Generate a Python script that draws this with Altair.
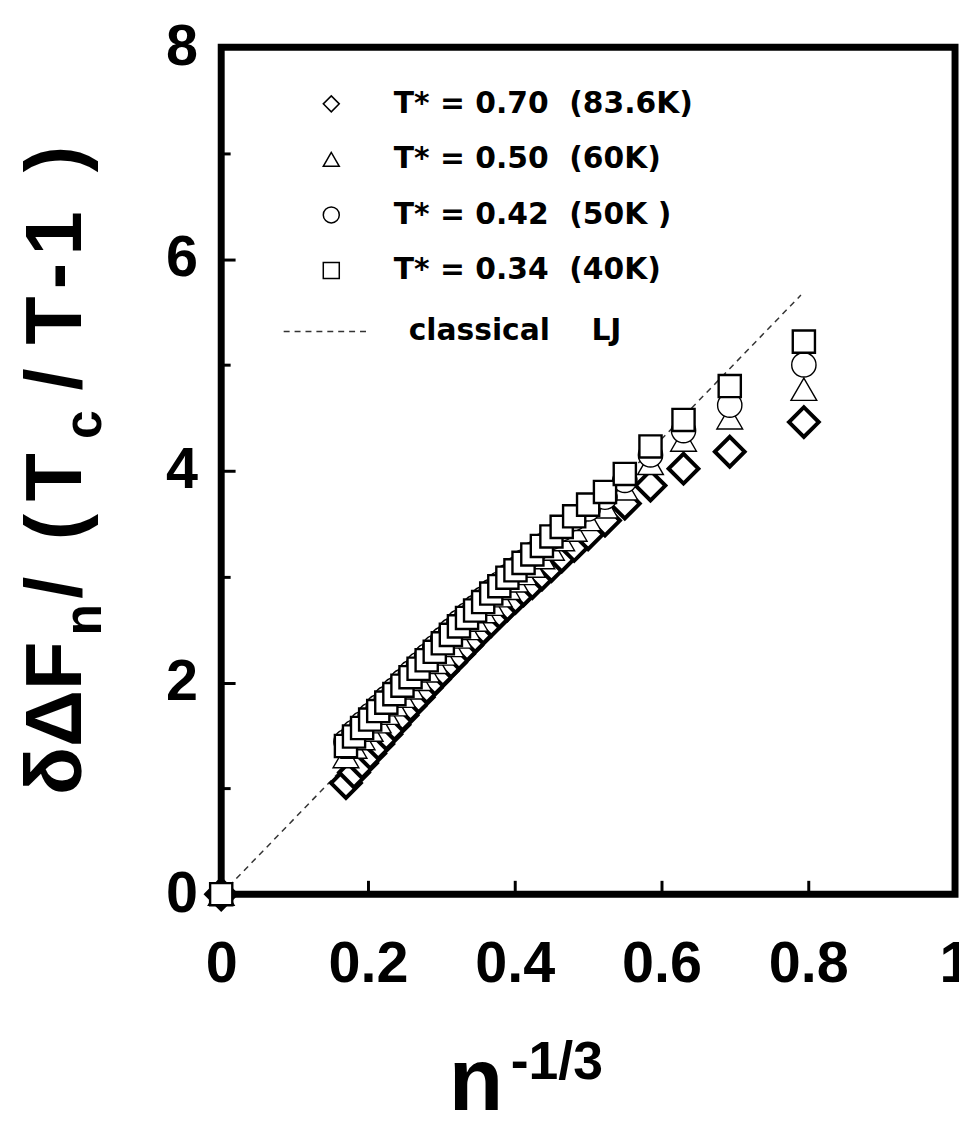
import altair as alt
import pandas as pd

# ---------------- data ----------------
x_vals = [0.0, 0.170, 0.181, 0.192, 0.203, 0.214, 0.225, 0.236, 0.247, 0.258,
          0.269, 0.280, 0.291, 0.302, 0.313, 0.324, 0.335, 0.346, 0.357,
          0.368, 0.379, 0.390, 0.401, 0.412, 0.424, 0.437, 0.450, 0.464,
          0.481, 0.500, 0.523, 0.550, 0.585, 0.630, 0.693, 0.794]

y_t070 = [0.0, 1.05, 1.15, 1.24, 1.33, 1.42, 1.51, 1.60, 1.69, 1.78, 1.86, 1.95,
          2.03, 2.11, 2.19, 2.27, 2.35, 2.43, 2.51, 2.58, 2.66, 2.73, 2.80,
          2.87, 2.94, 3.02, 3.10, 3.19, 3.29, 3.40, 3.53, 3.69, 3.86, 4.02,
          4.18, 4.46]
y_t050 = [0.0, 1.30, 1.39, 1.47, 1.55, 1.63, 1.71, 1.79, 1.87, 1.95, 2.03, 2.11,
          2.19, 2.27, 2.35, 2.43, 2.51, 2.59, 2.67, 2.74, 2.82, 2.89, 2.96,
          3.03, 3.10, 3.18, 3.26, 3.35, 3.44, 3.54, 3.66, 3.83, 4.07, 4.29,
          4.50, 4.77]
y_t042 = [0.0, 1.44, 1.53, 1.61, 1.69, 1.77, 1.85, 1.93, 2.01, 2.09, 2.17, 2.25,
          2.33, 2.41, 2.49, 2.57, 2.64, 2.71, 2.79, 2.86, 2.93, 3.00, 3.07,
          3.14, 3.21, 3.29, 3.37, 3.45, 3.55, 3.64, 3.75, 3.91, 4.15, 4.38,
          4.62, 5.00]
y_t034 = [0.0, 1.40, 1.49, 1.57, 1.65, 1.73, 1.81, 1.89, 1.97, 2.05, 2.13, 2.21,
          2.29, 2.37, 2.45, 2.53, 2.61, 2.68, 2.76, 2.84, 2.91, 2.99, 3.06,
          3.13, 3.21, 3.29, 3.38, 3.47, 3.57, 3.68, 3.80, 3.97, 4.23, 4.48,
          4.80, 5.22]

NB = "\u00a0"
series_names = [
    f"T*{NB}={NB}0.70{NB}{NB}(83.6K)",
    f"T*{NB}={NB}0.50{NB}{NB}(60K)",
    f"T*{NB}={NB}0.42{NB}{NB}(50K{NB})",
    f"T*{NB}={NB}0.34{NB}{NB}(40K)",
]
series_values = [y_t070, y_t050, y_t042, y_t034]
series_shapes = ["diamond", "triangle-up", "circle", "square"]
series_sizes = [900, 676, 600, 500]
series_strokes = [4.0, 1.4, 1.4, 2.4]

line_x = [0.0, 0.79]
line_y = [0.0, 5.66]
line_name = f"classical{NB}{NB}{NB}{NB}LJ"

x_ticks = [0, 0.2, 0.4, 0.6, 0.8, 1]
y_major = [0, 2, 4, 6, 8]
y_minor = [1, 3, 5, 7]

# ---------------- tables ----------------
tables = [pd.DataFrame({"x": x_vals, "y": ys, "series": [name] * len(x_vals)})
          for name, ys in zip(series_names, series_values)]
pts = pd.concat(tables, ignore_index=True)
line_df = pd.DataFrame({"x": line_x, "y": line_y, "kind": [line_name] * len(line_x)})

XS = alt.Scale(domain=[0, 1], nice=False, zero=False)
YS = alt.Scale(domain=[0, 8], nice=False, zero=False)
TICKFONT = "Liberation Sans"
LEGFONT = "DejaVu Sans"

x_axis = alt.Axis(values=x_ticks, orient="bottom", offset=-14, tickSize=14, tickWidth=3,
                  tickColor="black", domain=False, grid=False, labelFont=TICKFONT,
                  labelFontWeight="bold", labelFontSize=58, labelColor="black",
                  labelPadding=42, labelFlush=False, title=None,
                  labelExpr="datum.value == 0 ? '0' : datum.value == 1 ? '1' : format(datum.value, '.1f')")
y_axis = alt.Axis(values=y_major, orient="left", offset=-14, tickSize=14, tickWidth=3,
                  tickColor="black", domain=False, grid=False, labelFont=TICKFONT,
                  labelFontWeight="bold", labelFontSize=58, labelColor="black",
                  labelPadding=24, labelFlush=False, title=None, format="d")
y_axis_minor = alt.Axis(values=y_minor, orient="left", offset=-9, tickSize=9, tickWidth=3,
                        tickColor="black", domain=False, grid=False, labels=False,
                        title=None)

line_layer = alt.Chart(line_df).mark_line(color="#333333", strokeWidth=1.5).encode(
    x=alt.X("x:Q", scale=XS, axis=x_axis),
    y=alt.Y("y:Q", scale=YS, axis=y_axis),
    strokeDash=alt.StrokeDash(
        "kind:N",
        scale=alt.Scale(domain=[line_name], range=[[6, 5]]),
        legend=alt.Legend(title=None, orient="none", legendX=62, legendY=243,
                          symbolType="stroke", symbolSize=7225, symbolStrokeWidth=1.5,
                          symbolStrokeColor="#333333", labelFont=LEGFONT,
                          labelFontWeight="bold", labelFontSize=30, labelColor="black",
                          labelOffset=40, labelLimit=0, padding=0),
    ),
)

minor_layer = alt.Chart(line_df).mark_point(opacity=0).encode(
    x=alt.X("x:Q", scale=XS, axis=None),
    y=alt.Y("y:Q", scale=YS, axis=y_axis_minor),
)

# one layer per series, drawn in order so the squares end up on top
series_layers = [
    alt.Chart(tbl).mark_point(shape=shp, size=sz, strokeWidth=sw, fill="white",
                              fillOpacity=1, stroke="black", opacity=1).encode(
        x=alt.X("x:Q", scale=XS, axis=None),
        y=alt.Y("y:Q", scale=YS, axis=None),
    )
    for tbl, shp, sz, sw in zip(tables, series_shapes, series_sizes, series_strokes)
]

# invisible layer that only carries the shape legend
legend_layer = alt.Chart(pts).mark_point(opacity=0).encode(
    x=alt.X("x:Q", scale=XS, axis=None),
    y=alt.Y("y:Q", scale=YS, axis=None),
    shape=alt.Shape(
        "series:N",
        scale=alt.Scale(domain=series_names, range=series_shapes),
        legend=alt.Legend(title=None, orient="none", legendX=96, legendY=42,
                          symbolSize=260, symbolStrokeWidth=1.5, symbolFillColor="white",
                          symbolStrokeColor="black", symbolOpacity=1, labelFont=LEGFONT,
                          labelFontWeight="bold", labelFontSize=30, labelColor="black",
                          labelOffset=48, labelLimit=0, rowPadding=26, padding=0),
    ),
)


def label(text, vx, vy, size, angle=0, align="left", font="Liberation Sans"):
    return alt.Chart(pd.DataFrame({"t": [text]})).mark_text(
        text=text, fontSize=size, font=font, fontWeight="bold", angle=angle,
        align=align, baseline="alphabetic", color="black"
    ).encode(x=alt.value(vx), y=alt.value(vy))


# y-axis title pieces (rotated, reading upward), with subscripts
YT_X = -141
YS_X = -121
ytitle = [
    label("δΔF", YT_X, 754, 80, angle=270),
    label("n", YS_X, 593, 52, angle=270),
    label("/", YT_X, 556, 80, angle=270),
    label("(", YT_X, 497, 80, angle=270),
    label("T", YT_X, 458, 80, angle=270),
    label("c", YS_X, 395, 52, angle=270),
    label("/", YT_X, 346, 80, angle=270),
    label("T", YT_X, 300, 80, angle=270),
    label("-", YT_X, 244, 80, angle=270),
    label("1", YT_X, 210, 80, angle=270),
    label(")", YT_X, 126, 80, angle=270),
]
# x-axis title with superscript
xtitle = [
    label("n", 257, 1072, 90, align="center"),
    label("-1/3", 292, 1040, 54),
]

chart = alt.layer(line_layer, minor_layer, *series_layers, legend_layer,
                  *ytitle, *xtitle).resolve_axis(
    x="independent", y="independent"
).properties(
    width=740, height=854,
    autosize=alt.AutoSizeParams(type="none"),
    padding={"left": 215, "top": 35, "right": 4, "bottom": 221},
    background="white",
).configure_view(
    stroke="black", strokeWidth=7
)

chart.save("out.html", embed_options={"renderer": "svg", "actions": False})
